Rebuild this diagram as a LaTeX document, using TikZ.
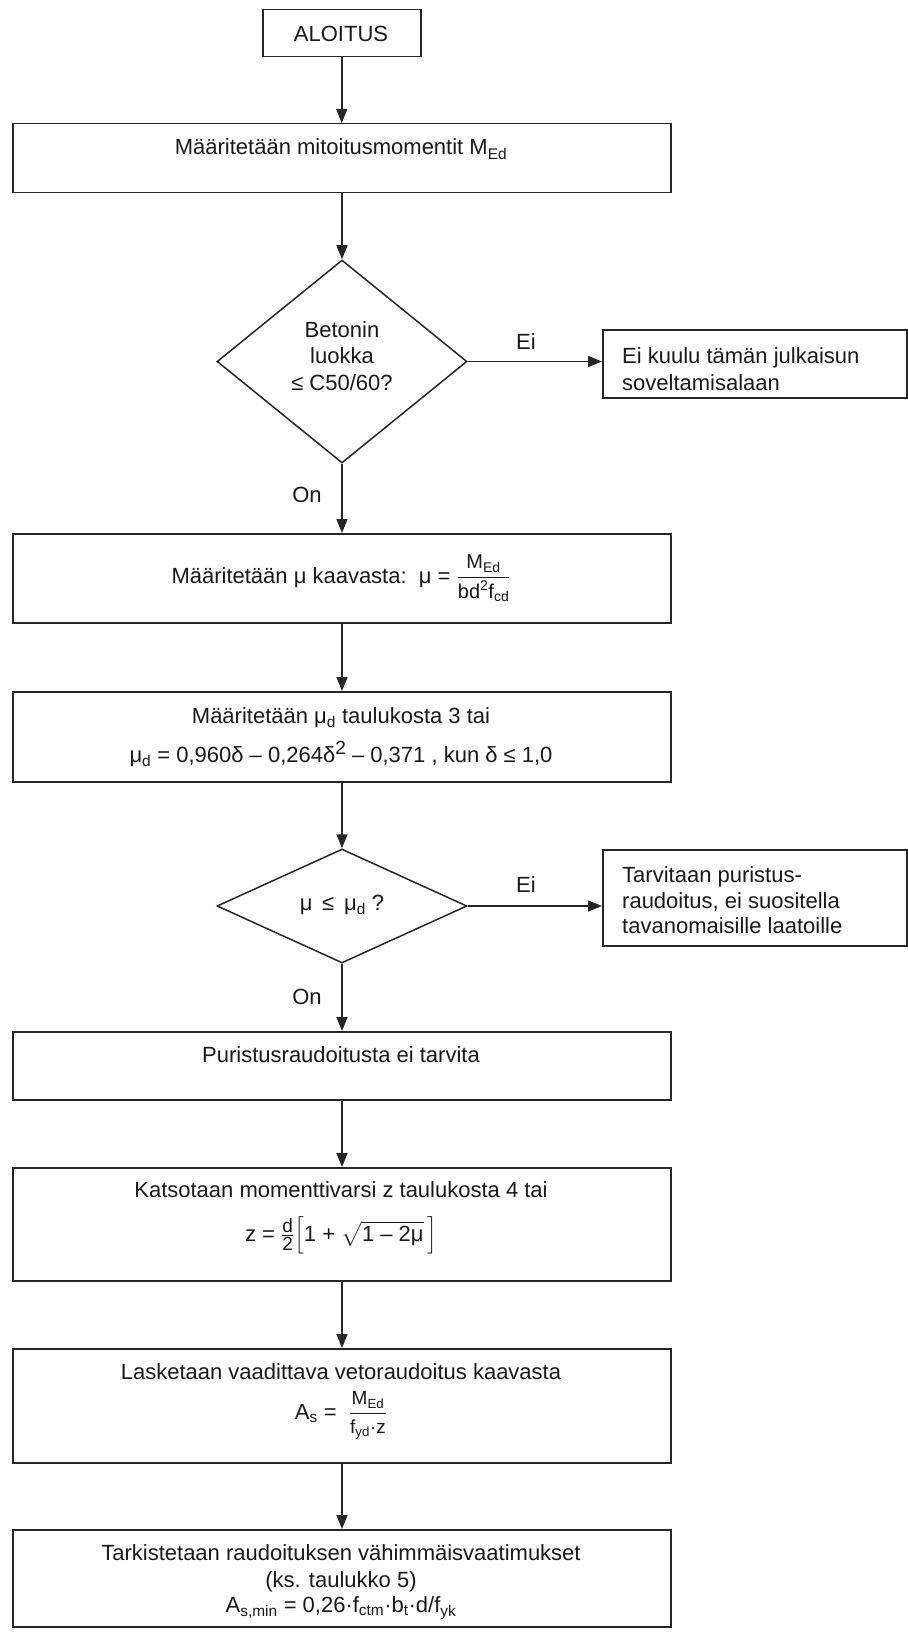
\documentclass[tikz,border=0pt]{standalone}
\usepackage{amsmath}
\usepackage{fontspec}
\setmainfont{Liberation Sans}
\usetikzlibrary{arrows.meta,shapes.geometric}
\tikzset{
  ln/.style={draw=black!85, line width=1.5pt},
  boxn/.style={ln, rectangle, inner sep=0pt, anchor=north west},
  dia/.style={ln, diamond, inner sep=0pt, aspect=2},
  arr/.style={ln, -{Triangle[length=14pt,width=11pt]}},
  txt/.style={inner sep=0pt, anchor=base, text=black!90},
  ltxt/.style={inner sep=0pt, anchor=base west, text=black!90},
}
\newcommand{\fs}[1]{\fontsize{#1}{#1}\selectfont}
\begin{document}
\begin{tikzpicture}[x=1pt,y=-1pt,font=\fontsize{22}{26.5}\selectfont]
\useasboundingbox (0,0) rectangle (907,1637);
\fill[white] (0,0) rectangle (907,1637);

% boxes
\node[boxn, minimum width=158pt, minimum height=47pt] (start) at (262,9) {};
\node[txt] (startT) at (341,42) {ALOITUS};

\node[boxn, minimum width=658pt, minimum height=69pt] (b1) at (12,123) {};
\node[txt] (b1T) at (341,155) {Määritetään mitoitusmomentit M\textsubscript{Ed}};

\node[dia, minimum width=250pt, minimum height=203pt] (d1) at (342,361.5) {};
\node[txt] (d1a) at (342,337) {Betonin};
\node[txt] (d1b) at (342,363) {luokka};
\node[txt] (d1c) at (342,390) {≤ C50/60?};

\node[boxn, minimum width=304pt, minimum height=68pt] (r1) at (602,329) {};
\node[ltxt] (r1a) at (622,363) {Ei kuulu tämän julkaisun};
\node[ltxt] (r1b) at (622,390) {soveltamisalaan};

\node[boxn, minimum width=658pt, minimum height=89pt] (b2) at (12,533) {};
\node[txt] (b2T) at (341,583) {Määritetään μ kaavasta:\ \ μ = $\dfrac{\text{\fs{20}M\textsubscript{Ed}}}{\text{\fs{20}bd\textsuperscript{2}f\textsubscript{cd}}}$};

\node[boxn, minimum width=658pt, minimum height=90pt] (b3) at (12,691) {};
\node[txt] (b3a) at (341,723) {Määritetään μ\textsubscript{d} taulukosta 3 tai};
\node[txt] (b3b) at (341,762) {μ\textsubscript{d} = 0,960δ – 0,264δ\raisebox{8pt}{\fs{19}2} – 0,371 , kun δ ≤ 1,0};

\node[dia, minimum width=250pt, minimum height=114pt] (d2) at (342,906) {};
\node[txt] (d2T) at (342,910) {μ \,≤\, μ\textsubscript{d} ?};

\node[boxn, minimum width=304pt, minimum height=96pt] (r2) at (602,849) {};
\node[ltxt] (r2a) at (622,882) {Tarvitaan puristus-};
\node[ltxt] (r2b) at (622,908) {raudoitus, ei suositella};
\node[ltxt] (r2c) at (622,933) {tavanomaisille laatoille};

\node[boxn, minimum width=658pt, minimum height=68pt] (b4) at (12,1031) {};
\node[txt] (b4T) at (341,1062) {Puristusraudoitusta ei tarvita};

\node[boxn, minimum width=658pt, minimum height=113pt] (b5) at (12,1167) {};
\node[txt] (b5a) at (341,1197) {Katsotaan momenttivarsi z taulukosta 4 tai};
\node[txt] (b5b) at (341,1241) {z = $\smash[t]{\genfrac{}{}{}{1}{\text{\fs{19}d}}{\text{\fs{19}2}}\Bigl[\text{1 + }\sqrt{\text{1 – 2μ}}\,\Bigr]}$};

\node[boxn, minimum width=658pt, minimum height=114pt] (b6) at (12,1348) {};
\node[txt] (b6a) at (341,1379) {Lasketaan vaadittava vetoraudoitus kaavasta};
\node[txt] (b6b) at (341,1419) {A\textsubscript{s} = \ $\dfrac{\text{\fs{19}M\textsubscript{Ed}}}{\text{\fs{19}f\textsubscript{yd}·z}}$};

\node[boxn, minimum width=658pt, minimum height=97pt] (b7) at (12,1529) {};
\node[txt] (b7a) at (341,1560) {Tarkistetaan raudoituksen vähimmäisvaatimukset};
\node[txt] (b7b) at (341,1587) {(ks. taulukko 5)};
\node[txt] (b7c) at (341,1612) {A\textsubscript{s,min} = 0,26·f\textsubscript{ctm}·b\textsubscript{t}·d/f\textsubscript{yk}};

% connectors
\draw[arr] (start.south) -- (start.south |- b1.north);
\draw[arr] (b1.south -| d1.north) -- (d1.north);
\draw[arr] (d1.east) -- (d1.east -| r1.west);
\node[txt] (ei1) at (526,349) {Ei};
\draw[arr] (d1.south) -- (d1.south |- b2.north);
\node[txt] (on1) at (307,502) {On};
\draw[arr] (b2.south -| d1.south) -- (d1.south |- b3.north);
\draw[arr] (b3.south -| d2.north) -- (d2.north);
\draw[arr] (d2.east) -- (d2.east -| r2.west);
\node[txt] (ei2) at (526,892) {Ei};
\draw[arr] (d2.south) -- (d2.south |- b4.north);
\node[txt] (on2) at (307,1004) {On};
\draw[arr] (b4.south -| d2.south) -- (d2.south |- b5.north);
\draw[arr] (b5.south -| d2.south) -- (d2.south |- b6.north);
\draw[arr] (b6.south -| d2.south) -- (d2.south |- b7.north);
\end{tikzpicture}
\end{document}
